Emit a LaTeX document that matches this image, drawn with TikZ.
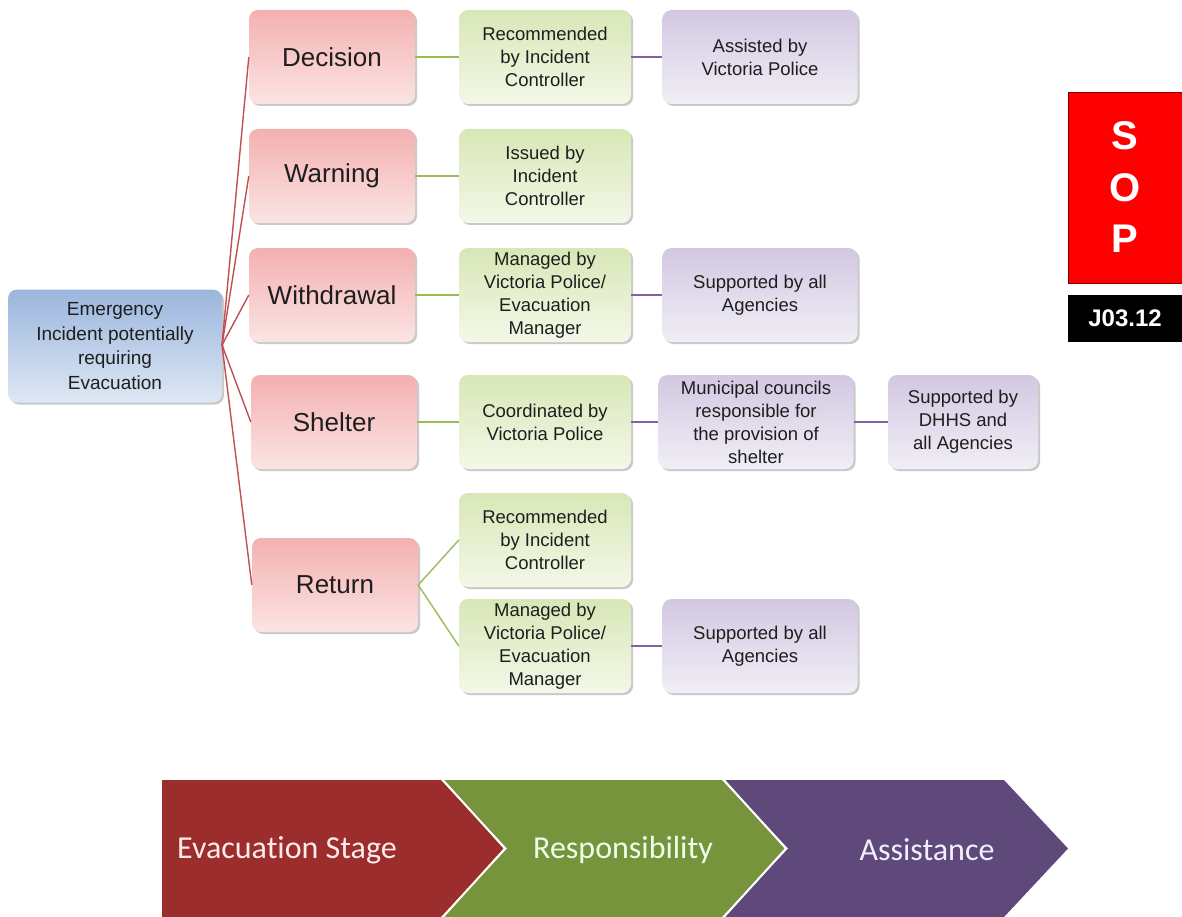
\documentclass[tikz,border=0pt]{standalone}
\usepackage{fontspec}
\setmainfont{Liberation Sans}
\newfontfamily\calib[Ligatures=NoCommon]{Carlito}
\usetikzlibrary{shadows}
\definecolor{pinkT}{HTML}{F4B0B0}
\definecolor{pinkB}{HTML}{FBE4E4}
\definecolor{greenT}{HTML}{D8E7B6}
\definecolor{greenB}{HTML}{F3F8E8}
\definecolor{purT}{HTML}{D2C8E2}
\definecolor{purB}{HTML}{F1EEF6}
\definecolor{blueT}{HTML}{9AB6DD}
\definecolor{blueB}{HTML}{DEE7F4}
\definecolor{txt}{HTML}{1E1E1E}
\definecolor{lred}{HTML}{C0504D}
\definecolor{lgreen}{HTML}{9BBB59}
\definecolor{lpur}{HTML}{8064A2}
\definecolor{cred}{HTML}{9B2D2C}
\definecolor{cgreen}{HTML}{77933C}
\definecolor{cpur}{HTML}{5F497A}
\tikzset{
  base/.style={rounded corners=9pt, minimum height=94pt, align=center, text=txt, inner sep=1pt,
    drop shadow={opacity=0.3, shadow xshift=2pt, shadow yshift=-2pt, fill=black!70}},
  small/.style={font=\fontsize{18.5}{23}\selectfont},
  stagebox/.style={base, minimum width=166pt, top color=pinkT, bottom color=pinkB, font=\fontsize{26}{30}\selectfont},
  respbox/.style={base, small, minimum width=172pt, top color=greenT, bottom color=greenB},
  asstbox/.style={base, small, minimum width=195pt, top color=purT, bottom color=purB},
  rootbox/.style={base, minimum width=214pt, minimum height=113pt, top color=blueT, bottom color=blueB, font=\fontsize{19}{24.5}\selectfont},
  redline/.style={draw=lred, line width=1.4pt},
  greenline/.style={draw=lgreen, line width=1.4pt},
  purline/.style={draw=lpur, line width=1.4pt},
  chev/.style={draw=white, line width=2pt},
  chevtext/.style={font=\calib\fontsize{32}{36}\selectfont},
}
\begin{document}
\begin{tikzpicture}[x=1pt,y=1pt]
\useasboundingbox (0,0) rectangle (1182,-917);
% root
\node[rootbox] (root) at (115,-346) {Emergency\\Incident potentially\\requiring\\Evacuation};
\coordinate (hub) at (222,-345);
% stages
\node[stagebox] (dec) at (332,-57) {Decision};
\node[stagebox] (war) at (332,-176) {Warning};
\node[stagebox] (wit) at (332,-295) {Withdrawal};
\node[stagebox] (she) at (334,-422) {Shelter};
\node[stagebox] (ret) at (335,-585) {Return};
% responsibility
\node[respbox] (r1) at (545,-57) {Recommended\\by Incident\\Controller};
\node[respbox] (r2) at (545,-176) {Issued by\\Incident\\Controller};
\node[respbox] (r3) at (545,-295) {Managed by\\Victoria Police/\\Evacuation\\Manager};
\node[respbox] (r4) at (545,-422) {Coordinated by\\Victoria Police};
\node[respbox] (r5) at (545,-540) {Recommended\\by Incident\\Controller};
\node[respbox] (r6) at (545,-646) {Managed by\\Victoria Police/\\Evacuation\\Manager};
% assistance
\node[asstbox] (a1) at (760,-57) {Assisted by\\Victoria Police};
\node[asstbox] (a3) at (760,-295) {Supported by all\\Agencies};
\node[asstbox] (a4) at (756,-422) {Municipal councils\\responsible for\\the provision of\\shelter};
\node[asstbox, minimum width=150pt] (a5) at (963,-422) {Supported by\\DHHS and\\all Agencies};
\node[asstbox] (a6) at (760,-646) {Supported by all\\Agencies};
% connectors
\foreach \n in {dec,war,wit,she,ret} \draw[redline] (hub) -- (\n.west);
\draw[greenline] (dec) -- (r1);
\draw[greenline] (war) -- (r2);
\draw[greenline] (wit) -- (r3);
\draw[greenline] (she) -- (r4);
\draw[greenline] (ret.east) -- (r5.west);
\draw[greenline] (ret.east) -- (r6.west);
\draw[purline] (r1) -- (a1);
\draw[purline] (r3) -- (a3);
\draw[purline] (r4) -- (a4);
\draw[purline] (a4) -- (a5);
\draw[purline] (r6) -- (a6);
% SOP
\node[draw=red!50!black, line width=0.6pt, fill=red, minimum width=114pt, minimum height=191pt, inner sep=0pt] (sop) at (1125,-187.5) {};
\node[text=white, font=\bfseries\fontsize{40}{51.5}\selectfont, align=center] (soptxt) at (sop) {S\\O\\P};
\node[fill=black, minimum width=114pt, minimum height=47pt, inner sep=0pt, text=white, font=\bfseries\fontsize{24}{28}\selectfont] (code) at (1125,-318.5) {J03.12};
% chevrons
\fill[cred] (162,-780) -- (441,-780) -- (505,-848.5) -- (441,-917) -- (162,-917) -- cycle;
\fill[cgreen] (443,-780) -- (722,-780) -- (786,-848.5) -- (722,-917) -- (443,-917) -- (507,-848.5) -- cycle;
\fill[cpur] (724,-780) -- (1004,-780) -- (1068,-848.5) -- (1004,-917) -- (724,-917) -- (788,-848.5) -- cycle;
\draw[chev] (441,-778) -- (505,-848.5) -- (441,-919);
\draw[chev] (722,-778) -- (786,-848.5) -- (722,-919);
\node[chevtext, text=red!8] (t1) at (287,-850) {Evacuation Stage};
\node[chevtext, text=green!8!white] (t2) at (623,-850) {Responsibility};
\node[chevtext, text=blue!6!white] (t3) at (927,-850) {Assistance};
\end{tikzpicture}
\end{document}
